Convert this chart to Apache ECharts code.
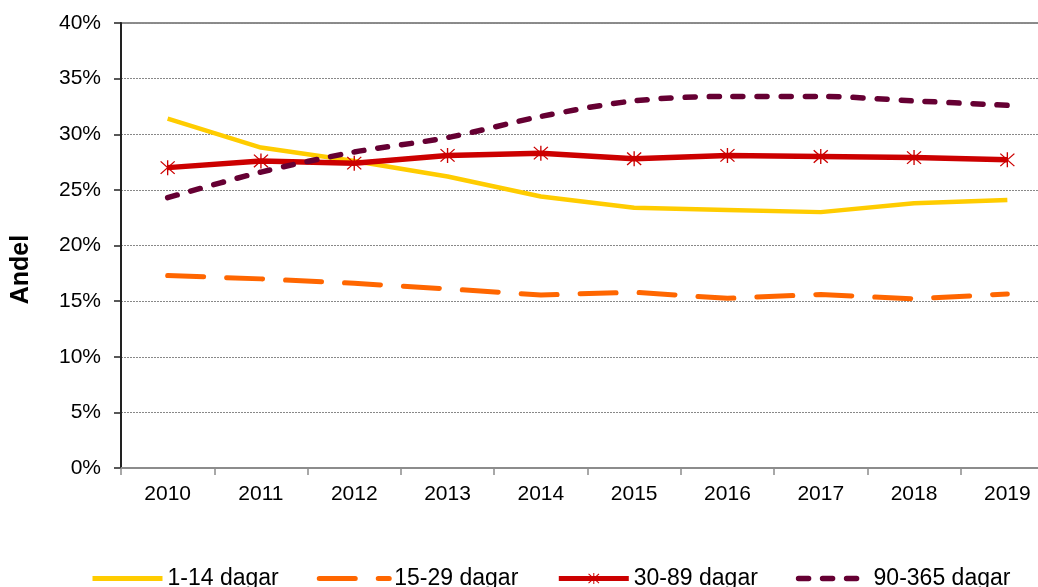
<!DOCTYPE html>
<html>
<head>
<meta charset="utf-8">
<script src="https://cdn.jsdelivr.net/npm/echarts@6/dist/echarts.min.js"></script>
<style>
  html, body { margin: 0; padding: 0; background: #fff; }
  #chart { width: 1038px; height: 587px; }
</style>
</head>
<body>
<div id="chart"></div>
<script>
const years = ['2010', '2011', '2012', '2013', '2014', '2015', '2016', '2017', '2018', '2019'];
const seriesNames = ['1-14 dagar', '15-29 dagar', '30-89 dagar', '90-365 dagar'];
// andel i procent
const d1_14 = [31.4, 28.8, 27.6, 26.2, 24.4, 23.4, 23.2, 23.0, 23.8, 24.1];
const d15_29 = [17.3, 17.0, 16.6, 16.1, 15.55, 15.8, 15.25, 15.6, 15.2, 15.65];
const d30_89 = [27.0, 27.6, 27.4, 28.1, 28.3, 27.8, 28.1, 28.0, 27.9, 27.7];
const d90_365 = [24.3, 26.6, 28.4, 29.7, 31.6, 33.0, 33.4, 33.4, 33.0, 32.6];

// asterisk-marker (Excel-stjärna)
const starPath = 'path://M9.2,0L10.8,0L10.8,20L9.2,20Z' +
  'M1.1,2.2L2.2,1.1L18.9,17.8L17.8,18.9Z' +
  'M17.8,1.1L18.9,2.2L2.2,18.9L1.1,17.8Z';

const chart = echarts.init(document.getElementById('chart'), null, {renderer: 'canvas'});
const font = '"Liberation Sans", Arial, sans-serif';

// legend-ikoner: bara linjen, ingen cirkel
const noDot = {opacity: 0};

chart.setOption({
  animation: false,
  backgroundColor: '#fff',
  textStyle: {fontFamily: font},
  grid: {
    left: 121,
    top: 23,
    width: 933,
    height: 445,
    outerBoundsMode: 'none',
    containLabel: false,
    show: true,
    borderColor: '#8c8c8c',
    borderWidth: 2,
    backgroundColor: 'transparent'
  },
  legend: {
    top: 562,
    left: 85,
    width: 1100,
    itemWidth: 70,
    itemHeight: 14,
    itemGap: 38,
    textStyle: {fontSize: 23, color: '#000', fontFamily: font},
    data: [
      {name: seriesNames[0], itemStyle: noDot, lineStyle: {width: 5}},
      {name: seriesNames[1], itemStyle: noDot, lineStyle: {width: 5}},
      {name: seriesNames[2], lineStyle: {width: 5}},
      {name: seriesNames[3], itemStyle: noDot, lineStyle: {width: 5.5}}
    ]
  },
  xAxis: {
    type: 'category',
    data: years,
    boundaryGap: true,
    axisLine: {lineStyle: {color: '#8c8c8c', width: 2}},
    axisTick: {show: true, length: 7, lineStyle: {color: '#8c8c8c', width: 1.5}},
    axisLabel: {fontSize: 21, color: '#000', margin: 16}
  },
  yAxis: {
    type: 'value',
    min: 0,
    max: 40,
    interval: 5,
    name: 'Andel',
    nameLocation: 'middle',
    nameGap: 87,
    nameTextStyle: {fontSize: 25, fontWeight: 'bold', color: '#000', padding: [0, 48, 0, 0]},
    axisLine: {show: true, lineStyle: {color: '#222', width: 2}},
    axisTick: {show: true, inside: false, length: 7, lineStyle: {color: '#222', width: 1.5}},
    axisLabel: {fontSize: 21, color: '#000', margin: 20, formatter: '{value}%'},
    splitLine: {lineStyle: {color: '#888', type: [2, 1], width: 1}}
  },
  series: [
    {
      name: seriesNames[0],
      type: 'line',
      data: d1_14,
      symbol: 'none',
      color: '#ffcc00',
      lineStyle: {width: 4.5, color: '#ffcc00'},
      z: 2
    },
    {
      name: seriesNames[1],
      type: 'line',
      data: d15_29,
      symbol: 'none',
      color: '#ff6600',
      lineStyle: {width: 5, color: '#ff6600', type: [36, 23], cap: 'round'},
      z: 2
    },
    {
      name: seriesNames[2],
      type: 'line',
      data: d30_89,
      symbol: starPath,
      symbolSize: 15,
      color: '#cc0000',
      itemStyle: {color: '#cc0000'},
      lineStyle: {width: 5.5, color: '#cc0000'},
      z: 3
    },
    {
      name: seriesNames[3],
      type: 'line',
      data: d90_365,
      symbol: 'none',
      smooth: 0.3,
      color: '#660033',
      lineStyle: {width: 5.5, color: '#660033', type: [10, 14], cap: 'round'},
      z: 4
    }
  ]
});
</script>
</body>
</html>
